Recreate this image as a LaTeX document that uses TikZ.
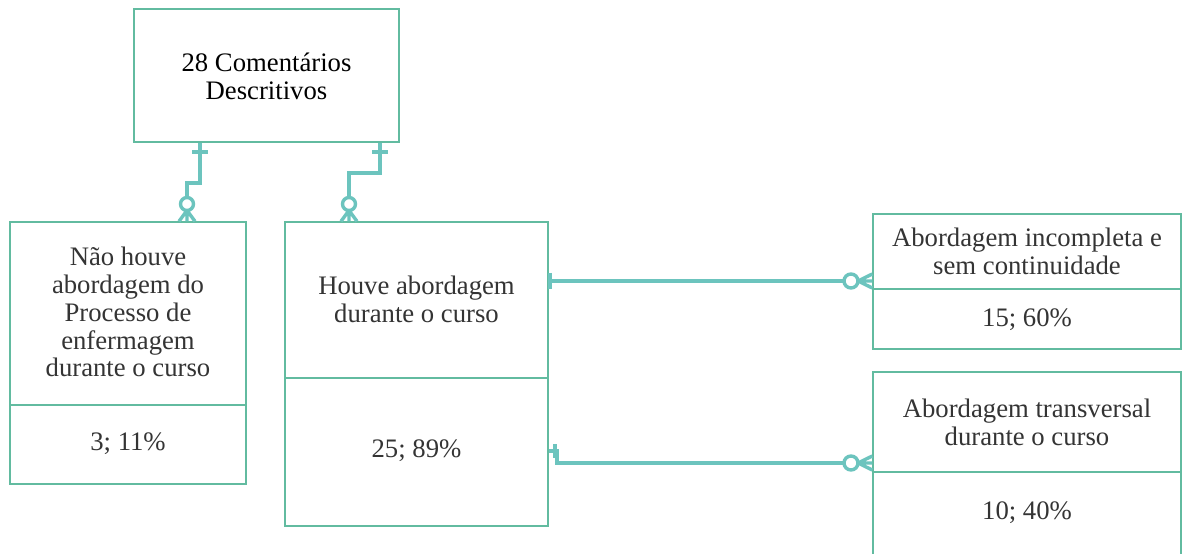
\documentclass[tikz,border=0pt]{standalone}
\usepackage{fontspec}
\setmainfont{Liberation Serif}
\definecolor{boxgreen}{RGB}{98,187,160}
\definecolor{linkteal}{RGB}{108,196,190}
\definecolor{txtgray}{RGB}{52,52,52}
\begin{document}
\begin{tikzpicture}[x=0.5bp, y=-0.5bp,
    entity/.style={draw=boxgreen, line width=0.7pt, inner sep=0pt},
    label/.style={align=center, text=txtgray, inner sep=0pt, font=\fontsize{13.4}{14}\selectfont},
    link/.style={linkteal, line width=1.7pt}]
  \clip (0,0) rectangle (1182,554);
  \fill[white] (0,0) rectangle (1182,554);

  % entities
  \node[entity, minimum width=132.5bp, minimum height=66.5bp] (total) at (266.5,75.5) {};
  \node[entity, minimum width=118bp, minimum height=131bp] (nao) at (128,353) {};
  \node[entity, minimum width=131.5bp, minimum height=152bp] (houve) at (416.5,374) {};
  \node[entity, minimum width=154bp, minimum height=67.5bp] (incompleta) at (1027,281.5) {};
  \node[entity, minimum width=154bp, minimum height=100bp] (transversal) at (1027,472) {};

  \draw[boxgreen, line width=0.7pt] (nao.west |- 0,405) -- (nao.east |- 0,405);
  \draw[boxgreen, line width=0.7pt] (houve.west |- 0,378) -- (houve.east |- 0,378);
  \draw[boxgreen, line width=0.7pt] (incompleta.west |- 0,289) -- (incompleta.east |- 0,289);
  \draw[boxgreen, line width=0.7pt] (transversal.west |- 0,472) -- (transversal.east |- 0,472);

  % texts
  \node[label, text=black] (total-txt) at (266.5,76) {28 Comentários\\Descritivos};
  \node[label] (nao-txt) at (128,312) {Não houve\\abordagem do\\Processo de\\enfermagem\\durante o curso};
  \node[label] (nao-num) at (128,444) {3; 11\%};
  \node[label] (houve-txt) at (416.5,299) {Houve abordagem\\durante o curso};
  \node[label] (houve-num) at (416.5,451) {25; 89\%};
  \node[label] (incompleta-txt) at (1027,251) {Abordagem incompleta e\\sem continuidade};
  \node[label] (incompleta-num) at (1027,320) {15; 60\%};
  \node[label] (transversal-txt) at (1027,422) {Abordagem transversal\\durante o curso};
  \node[label] (transversal-num) at (1027,513) {10; 40\%};

  % links
  \draw[link] (200,0 |- total.south) -- (200,183) -- (187,183) -- (187,197.5);
  \draw[link] (192,152) -- (208,152);
  \draw[link] (187,204) circle [radius=3.25bp];
  \draw[link] (187,210.5) -- (179,0 |- nao.north) (187,210.5) -- (187,0 |- nao.north) (187,210.5) -- (195,0 |- nao.north);

  \draw[link] (380,0 |- total.south) -- (380,173) -- (349,173) -- (349,197.5);
  \draw[link] (372,152) -- (388,152);
  \draw[link] (349,204) circle [radius=3.25bp];
  \draw[link] (349,210.5) -- (341,0 |- houve.north) (349,210.5) -- (349,0 |- houve.north) (349,210.5) -- (357,0 |- houve.north);

  \draw[link] (houve.east |- 0,281) -- (844,281);
  \draw[link] (550,273) -- (550,289);
  \draw[link] (851,281) circle [radius=3.5bp];
  \draw[link] (858,281) -- (incompleta.west |- 0,274) (858,281) -- (incompleta.west |- 0,281) (858,281) -- (incompleta.west |- 0,288);

  \draw[link] (houve.east |- 0,451) -- (557,451) -- (557,463) -- (844,463);
  \draw[link] (555,444) -- (555,458);
  \draw[link] (851,463) circle [radius=3.5bp];
  \draw[link] (858,463) -- (transversal.west |- 0,456) (858,463) -- (transversal.west |- 0,463) (858,463) -- (transversal.west |- 0,470);
\end{tikzpicture}
\end{document}
